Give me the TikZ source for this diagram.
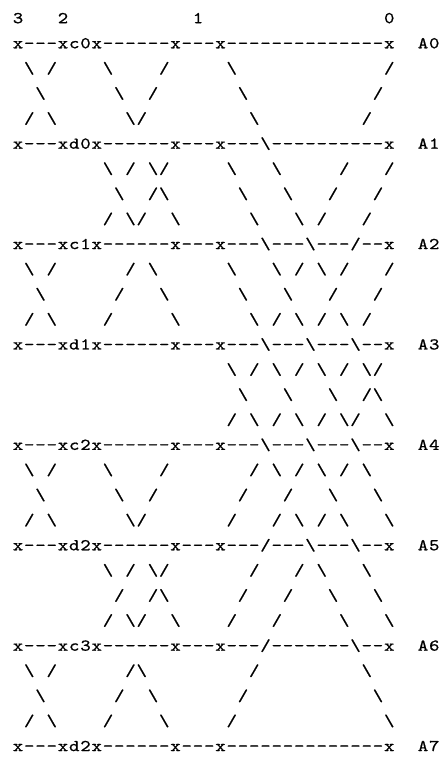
\documentclass[tikz,border=0pt]{standalone}
\font\asciifnt="[lmmono10-regular.otf]:extend=1.2;embolden=0.8" at 16.5pt
\newlength\cellw
\setlength\cellw{11.25pt}
\def\asc#1{\ascA#1\relax}
\def\ascA#1{\ifx\relax#1\else\asccell{#1}\expandafter\ascA\fi}
\def\asccell#1{\hbox to\cellw{\hss\ascglyph#1\hss}}
\def\ascglyph#1{\ifx#1.\else\ifx#1B\char"5C\relax\else#1\fi\fi}
\tikzset{
  ch/.style={anchor=base, inner sep=0pt, outer sep=0pt, font=\asciifnt},
}
% #1 = row index (A0 = 0), #2 = column, #3 = glyph
\newcommand\putch[3]{\node[ch] (c#1-#2) at ({12.4+11.25*#2+5.625},{709.7-25.1*#1}) {#3};}
% #1 = row, #2 = backslash columns, #3 = slash columns
\newcommand\slrow[3]{%
  \foreach \cc in {#2}{\putch{#1}{\cc}{\char"5C}}%
  \foreach \cc in {#3}{\putch{#1}{\cc}{/}}}
% #1 = row, #2 = register name, #3 = middle part, #4 = label
\newcommand\xrow[4]{\node[ch,anchor=base west] (xr#1) at (12.4,{709.7-25.1*#1}) {\asc{x---x#2x------x---x#3x..#4}};}
\begin{document}
\begin{tikzpicture}[x=1pt,y=1pt]
\fill[white] (0,0) rectangle (442,758);
\useasboundingbox (0,0) rectangle (442,758);
% header
\node[ch,anchor=base west] (hdr) at (12.4,734.8) {\asc{3...2...........1................0}};
% register rows
\xrow{0}{c0}{--------------}{A0}
\xrow{4}{d0}{---B----------}{A1}
\xrow{8}{c1}{---B---B---/--}{A2}
\xrow{12}{d1}{---B---B---B--}{A3}
\xrow{16}{c2}{---B---B---B--}{A4}
\xrow{20}{d2}{---/---B---B--}{A5}
\xrow{24}{c3}{---/-------B--}{A6}
\xrow{28}{d2}{--------------}{A7}
% slash rows
\slrow{1}{1,8,19}{3,13,33}
\slrow{2}{2,9,20}{12,32}
\slrow{3}{3,10,21}{1,11,31}
\slrow{5}{8,12,19,23}{10,13,29,33}
\slrow{6}{9,13,20,24}{12,28,32}
\slrow{7}{10,14,21,25}{8,11,27,31}
\slrow{9}{1,12,19,23,27}{3,10,25,29,33}
\slrow{10}{2,13,20,24}{9,28,32}
\slrow{11}{3,14,21,25,29}{1,8,23,27,31}
\slrow{13}{19,23,27,31}{21,25,29,32}
\slrow{14}{20,24,28,32}{31}
\slrow{15}{21,25,29,33}{19,23,27,30}
\slrow{17}{1,8,23,27,31}{3,13,21,25,29}
\slrow{18}{2,9,28,32}{12,20,24}
\slrow{19}{3,10,25,29,33}{1,11,19,23,27}
\slrow{21}{8,12,27,31}{10,13,21,25}
\slrow{22}{13,28,32}{9,12,20,24}
\slrow{23}{10,14,29,33}{8,11,19,23}
\slrow{25}{1,11,31}{3,10,21}
\slrow{26}{2,12,32}{9,20}
\slrow{27}{3,13,33}{1,8,19}
\end{tikzpicture}
\end{document}
